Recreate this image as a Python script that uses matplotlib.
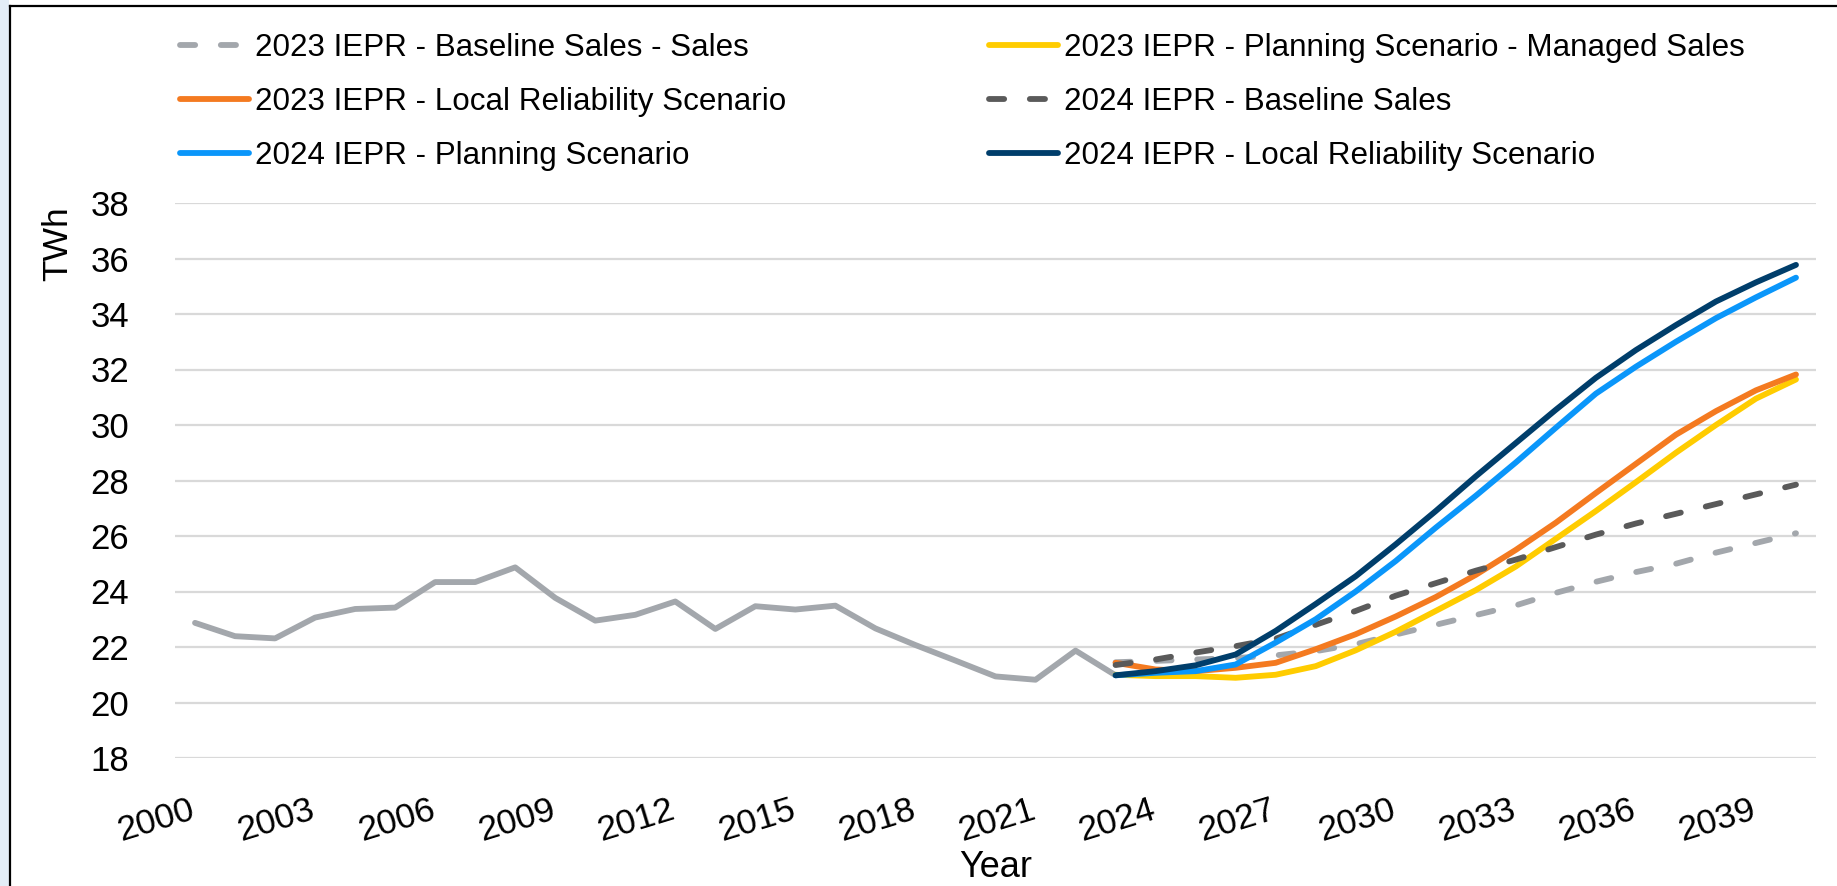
import matplotlib
matplotlib.use('Agg')
import matplotlib.pyplot as plt
import matplotlib.transforms as mtransforms
from matplotlib.patches import Rectangle
from matplotlib.lines import Line2D

plt.rcParams['font.family'] = ['Liberation Sans', 'DejaVu Sans']

# ---------------- data ----------------
hist_years = list(range(2000, 2024))
hist_sales = [22.87, 22.39, 22.31, 23.06, 23.37, 23.42, 24.34, 24.34, 24.87, 23.77,
              22.95, 23.16, 23.64, 22.65, 23.47, 23.35, 23.49, 22.67, 22.07, 21.51,
              20.94, 20.82, 21.87, 20.98]

fc_years = list(range(2023, 2041))
iepr23_baseline = [21.45, 21.50, 21.55, 21.60, 21.70, 21.85, 22.10, 22.45, 22.80, 23.15,
                   23.50, 23.95, 24.35, 24.70, 25.00, 25.40, 25.75, 26.10]
iepr23_planning = [21.00, 20.95, 20.95, 20.89, 21.00, 21.31, 21.88, 22.55, 23.30, 24.05,
                   24.90, 25.90, 26.90, 27.94, 29.00, 30.00, 30.95, 31.64]
iepr23_local = [21.43, 21.19, 21.13, 21.25, 21.43, 21.92, 22.46, 23.10, 23.80, 24.60,
                25.50, 26.48, 27.55, 28.60, 29.65, 30.50, 31.25, 31.82]
iepr24_baseline = [21.35, 21.55, 21.80, 22.03, 22.30, 22.80, 23.30, 23.85, 24.30, 24.75,
                   25.15, 25.60, 26.05, 26.45, 26.80, 27.15, 27.50, 27.85]
iepr24_planning = [20.98, 21.07, 21.13, 21.37, 22.16, 23.00, 24.00, 25.10, 26.30, 27.45,
                   28.65, 29.90, 31.13, 32.10, 33.00, 33.85, 34.60, 35.31]
iepr24_local = [20.98, 21.13, 21.34, 21.73, 22.58, 23.55, 24.55, 25.70, 26.90, 28.15,
                29.35, 30.55, 31.70, 32.70, 33.60, 34.45, 35.14, 35.77]

labels = ['2023 IEPR - Baseline Sales - Sales',
          '2023 IEPR - Planning Scenario - Managed Sales',
          '2023 IEPR - Local Reliability Scenario',
          '2024 IEPR - Baseline Sales',
          '2024 IEPR - Planning Scenario',
          '2024 IEPR - Local Reliability Scenario']

x_ticks = list(range(2000, 2040, 3))
y_ticks = list(range(18, 39, 2))

# ---------------- styles ----------------
C_LGREY = '#A3A7AC'
C_YELLOW = '#FFCC00'
C_ORANGE = '#F47A20'
C_DGREY = '#5A5A5A'
C_BLUE = '#0A96FA'
C_NAVY = '#003E6B'
LW = 4.2
DASH = (2.6, 4.4)

W, H = 1837, 886
fig = plt.figure(figsize=(W / 100, H / 100), dpi=100)
fig.patch.set_facecolor('white')

# slide background strip and chart border
fig.patches.append(Rectangle((0, 0), 9 / W, 1, transform=fig.transFigure,
                             facecolor='#E3EDF7', edgecolor='none', zorder=0))
fig.add_artist(Line2D([9.5 / W, 9.5 / W], [0, 1 - 6 / H], color='black', lw=1.6,
                      transform=fig.transFigure))
fig.add_artist(Line2D([9.5 / W, 1], [1 - 6 / H, 1 - 6 / H], color='black', lw=1.6,
                      transform=fig.transFigure))

ax = fig.add_axes([175 / W, 128 / H, (1816 - 175) / W, (683 - 128) / H])
ax.set_facecolor('white')

ax.plot(hist_years, hist_sales, color=C_LGREY, lw=LW, solid_capstyle='round',
        solid_joinstyle='round', zorder=3)

h1, = ax.plot(fc_years, iepr23_baseline, color=C_LGREY, lw=LW, dashes=DASH,
              dash_capstyle='round', label=labels[0], zorder=3)
h2, = ax.plot(fc_years, iepr23_planning, color=C_YELLOW, lw=LW, solid_capstyle='round',
              label=labels[1], zorder=4)
h3, = ax.plot(fc_years, iepr23_local, color=C_ORANGE, lw=LW, solid_capstyle='round',
              label=labels[2], zorder=5)
h4, = ax.plot(fc_years, iepr24_baseline, color=C_DGREY, lw=LW, dashes=DASH,
              dash_capstyle='round', label=labels[3], zorder=6)
h5, = ax.plot(fc_years, iepr24_planning, color=C_BLUE, lw=LW, solid_capstyle='round',
              label=labels[4], zorder=7)
h6, = ax.plot(fc_years, iepr24_local, color=C_NAVY, lw=LW, solid_capstyle='round',
              label=labels[5], zorder=8)

ax.set_xlim(1999.5, 2040.5)
ax.set_ylim(18, 38)
ax.set_yticks(y_ticks)
ax.set_xticks(x_ticks)
ax.set_xticklabels([str(v) for v in x_ticks], rotation=17, ha='right', va='top',
                   rotation_mode='anchor')
ax.grid(axis='y', color='#D9D9D9', lw=1.6)
ax.grid(axis='x', visible=False)
ax.set_axisbelow(True)
for s in ax.spines.values():
    s.set_visible(False)
ax.tick_params(axis='y', length=0, pad=33, labelsize=25)
ax.tick_params(axis='x', length=0, pad=25, labelsize=25.5)
shift = mtransforms.ScaledTranslation(-6 / 100, 0, fig.dpi_scale_trans)
for lab in ax.get_xticklabels():
    lab.set_transform(lab.get_transform() + shift)

fig.text(58 / W, 1 - 244 / H, 'TWh', rotation=90, ha='center', va='center', fontsize=25.5)
fig.text(996 / W, 1 - 850 / H, 'Year', ha='center', va='top', fontsize=26)

leg_kw = dict(loc='upper left', frameon=False, fontsize=22.6, handlelength=2.2,
              handletextpad=0.2, labelspacing=0.76, borderpad=0, borderaxespad=0)
fig.legend([h1, h3, h5], [labels[0], labels[2], labels[4]],
           bbox_to_anchor=(180 / W, 1 - 33 / H), **leg_kw)
fig.legend([h2, h4, h6], [labels[1], labels[3], labels[5]],
           bbox_to_anchor=(989 / W, 1 - 33 / H), **leg_kw)

fig.savefig('out.png', dpi=100)
